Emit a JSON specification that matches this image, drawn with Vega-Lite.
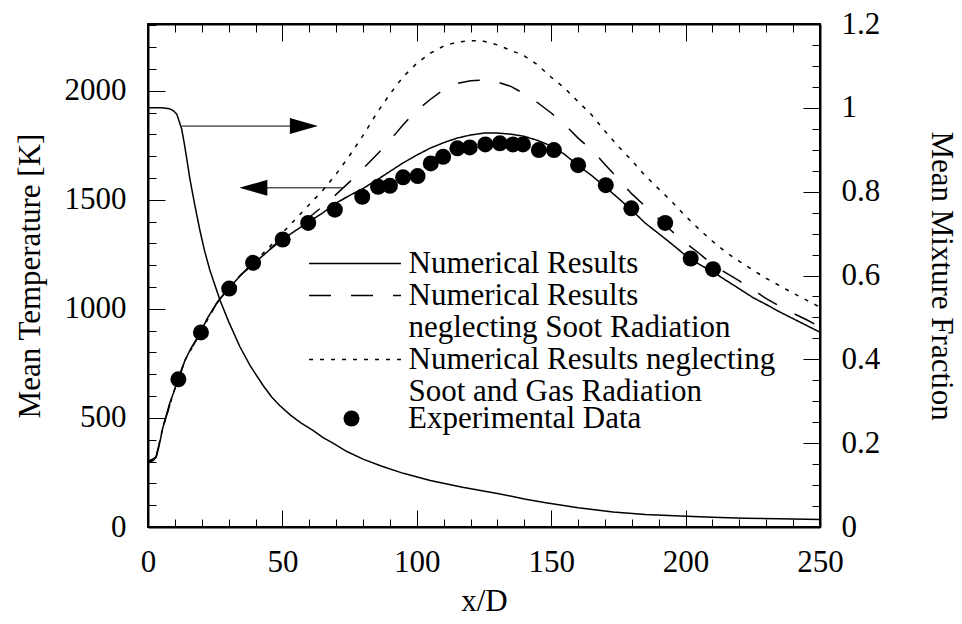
{
"$schema": "https://vega.github.io/schema/vega-lite/v6.json",
"width": 672, "height": 503,
"autosize": {"type": "none"},
"padding": {"left": 148, "top": 24, "right": 142, "bottom": 97},
"background": "white",
"config": {
  "view": {"stroke": "black", "strokeWidth": 2},
  "font": "Liberation Serif",
  "axis": {"grid": false, "domainColor": "black", "domainWidth": 2, "tickColor": "black", "tickWidth": 1, "labelColor": "black", "labelFont": "Liberation Serif", "labelFontSize": 31, "titleFont": "Liberation Serif", "titleFontSize": 31, "titleFontWeight": "normal", "titleColor": "black", "labelFlush": false, "labelOverlap": false, "labelBound": false}
},
"datasets": {
  "temperature": [
    {"x":0,"T":300,"model":"Numerical Results"},{"x":1,"T":300,"model":"Numerical Results"},{"x":2,"T":305,"model":"Numerical Results"},{"x":3,"T":320,"model":"Numerical Results"},{"x":4,"T":365,"model":"Numerical Results"},{"x":5.5,"T":455,"model":"Numerical Results"},{"x":7,"T":520,"model":"Numerical Results"},{"x":8,"T":565,"model":"Numerical Results"},{"x":9.4,"T":612,"model":"Numerical Results"},{"x":11.3,"T":681,"model":"Numerical Results"},{"x":13.8,"T":765,"model":"Numerical Results"},{"x":16,"T":820,"model":"Numerical Results"},{"x":19.3,"T":887,"model":"Numerical Results"},{"x":22,"T":955,"model":"Numerical Results"},{"x":25.5,"T":1025,"model":"Numerical Results"},{"x":30,"T":1095,"model":"Numerical Results"},{"x":35,"T":1160,"model":"Numerical Results"},{"x":40,"T":1215,"model":"Numerical Results"},{"x":45,"T":1268,"model":"Numerical Results"},{"x":50,"T":1318,"model":"Numerical Results"},{"x":55,"T":1360,"model":"Numerical Results"},{"x":60,"T":1400,"model":"Numerical Results"},{"x":65,"T":1440,"model":"Numerical Results"},{"x":70,"T":1485,"model":"Numerical Results"},{"x":75,"T":1520,"model":"Numerical Results"},{"x":80,"T":1552,"model":"Numerical Results"},{"x":85,"T":1590,"model":"Numerical Results"},{"x":90,"T":1630,"model":"Numerical Results"},{"x":95,"T":1670,"model":"Numerical Results"},{"x":100,"T":1705,"model":"Numerical Results"},{"x":105,"T":1737,"model":"Numerical Results"},{"x":110,"T":1762,"model":"Numerical Results"},{"x":115,"T":1783,"model":"Numerical Results"},{"x":120,"T":1797,"model":"Numerical Results"},{"x":125,"T":1806,"model":"Numerical Results"},{"x":130,"T":1806,"model":"Numerical Results"},{"x":135,"T":1801,"model":"Numerical Results"},{"x":140,"T":1791,"model":"Numerical Results"},{"x":145,"T":1772,"model":"Numerical Results"},{"x":150,"T":1747,"model":"Numerical Results"},{"x":155,"T":1708,"model":"Numerical Results"},{"x":160,"T":1657,"model":"Numerical Results"},{"x":165,"T":1612,"model":"Numerical Results"},{"x":170,"T":1560,"model":"Numerical Results"},{"x":175,"T":1507,"model":"Numerical Results"},{"x":180,"T":1452,"model":"Numerical Results"},{"x":185,"T":1393,"model":"Numerical Results"},{"x":190,"T":1345,"model":"Numerical Results"},{"x":195,"T":1296,"model":"Numerical Results"},{"x":200,"T":1245,"model":"Numerical Results"},{"x":205,"T":1205,"model":"Numerical Results"},{"x":210,"T":1171,"model":"Numerical Results"},{"x":215,"T":1131,"model":"Numerical Results"},{"x":220,"T":1092,"model":"Numerical Results"},{"x":225,"T":1052,"model":"Numerical Results"},{"x":230,"T":1020,"model":"Numerical Results"},{"x":235,"T":986,"model":"Numerical Results"},{"x":240,"T":955,"model":"Numerical Results"},{"x":245,"T":924,"model":"Numerical Results"},{"x":250,"T":893,"model":"Numerical Results"},

    {"x":0,"T":300,"model":"Numerical Results neglecting Soot Radiation"},{"x":3,"T":320,"model":"Numerical Results neglecting Soot Radiation"},{"x":5.5,"T":455,"model":"Numerical Results neglecting Soot Radiation"},{"x":9.4,"T":612,"model":"Numerical Results neglecting Soot Radiation"},{"x":13.8,"T":765,"model":"Numerical Results neglecting Soot Radiation"},{"x":19.3,"T":887,"model":"Numerical Results neglecting Soot Radiation"},{"x":25.5,"T":1025,"model":"Numerical Results neglecting Soot Radiation"},{"x":30,"T":1097,"model":"Numerical Results neglecting Soot Radiation"},{"x":35,"T":1162,"model":"Numerical Results neglecting Soot Radiation"},{"x":40,"T":1217,"model":"Numerical Results neglecting Soot Radiation"},{"x":45,"T":1272,"model":"Numerical Results neglecting Soot Radiation"},{"x":50,"T":1325,"model":"Numerical Results neglecting Soot Radiation"},{"x":55,"T":1373,"model":"Numerical Results neglecting Soot Radiation"},{"x":60,"T":1420,"model":"Numerical Results neglecting Soot Radiation"},{"x":65,"T":1470,"model":"Numerical Results neglecting Soot Radiation"},{"x":70,"T":1525,"model":"Numerical Results neglecting Soot Radiation"},{"x":75,"T":1582,"model":"Numerical Results neglecting Soot Radiation"},{"x":80,"T":1643,"model":"Numerical Results neglecting Soot Radiation"},{"x":85,"T":1705,"model":"Numerical Results neglecting Soot Radiation"},{"x":90,"T":1772,"model":"Numerical Results neglecting Soot Radiation"},{"x":95,"T":1845,"model":"Numerical Results neglecting Soot Radiation"},{"x":100,"T":1910,"model":"Numerical Results neglecting Soot Radiation"},{"x":105,"T":1960,"model":"Numerical Results neglecting Soot Radiation"},{"x":110,"T":2005,"model":"Numerical Results neglecting Soot Radiation"},{"x":115,"T":2033,"model":"Numerical Results neglecting Soot Radiation"},{"x":120,"T":2046,"model":"Numerical Results neglecting Soot Radiation"},{"x":125,"T":2049,"model":"Numerical Results neglecting Soot Radiation"},{"x":130,"T":2040,"model":"Numerical Results neglecting Soot Radiation"},{"x":135,"T":2020,"model":"Numerical Results neglecting Soot Radiation"},{"x":140,"T":1986,"model":"Numerical Results neglecting Soot Radiation"},{"x":145,"T":1945,"model":"Numerical Results neglecting Soot Radiation"},{"x":150,"T":1898,"model":"Numerical Results neglecting Soot Radiation"},{"x":155,"T":1846,"model":"Numerical Results neglecting Soot Radiation"},{"x":160,"T":1783,"model":"Numerical Results neglecting Soot Radiation"},{"x":165,"T":1730,"model":"Numerical Results neglecting Soot Radiation"},{"x":170,"T":1662,"model":"Numerical Results neglecting Soot Radiation"},{"x":175,"T":1595,"model":"Numerical Results neglecting Soot Radiation"},{"x":180,"T":1527,"model":"Numerical Results neglecting Soot Radiation"},{"x":185,"T":1470,"model":"Numerical Results neglecting Soot Radiation"},{"x":190,"T":1412,"model":"Numerical Results neglecting Soot Radiation"},{"x":195,"T":1355,"model":"Numerical Results neglecting Soot Radiation"},{"x":200,"T":1302,"model":"Numerical Results neglecting Soot Radiation"},{"x":205,"T":1255,"model":"Numerical Results neglecting Soot Radiation"},{"x":210,"T":1203,"model":"Numerical Results neglecting Soot Radiation"},{"x":215,"T":1165,"model":"Numerical Results neglecting Soot Radiation"},{"x":220,"T":1128,"model":"Numerical Results neglecting Soot Radiation"},{"x":225,"T":1088,"model":"Numerical Results neglecting Soot Radiation"},{"x":230,"T":1047,"model":"Numerical Results neglecting Soot Radiation"},{"x":235,"T":1012,"model":"Numerical Results neglecting Soot Radiation"},{"x":240,"T":980,"model":"Numerical Results neglecting Soot Radiation"},{"x":245,"T":950,"model":"Numerical Results neglecting Soot Radiation"},{"x":250,"T":918,"model":"Numerical Results neglecting Soot Radiation"},

    {"x":0,"T":300,"model":"Numerical Results neglecting Soot and Gas Radiation"},{"x":3,"T":320,"model":"Numerical Results neglecting Soot and Gas Radiation"},{"x":5.5,"T":455,"model":"Numerical Results neglecting Soot and Gas Radiation"},{"x":9.4,"T":612,"model":"Numerical Results neglecting Soot and Gas Radiation"},{"x":13.8,"T":765,"model":"Numerical Results neglecting Soot and Gas Radiation"},{"x":19.3,"T":887,"model":"Numerical Results neglecting Soot and Gas Radiation"},{"x":25.5,"T":1025,"model":"Numerical Results neglecting Soot and Gas Radiation"},{"x":30,"T":1097,"model":"Numerical Results neglecting Soot and Gas Radiation"},{"x":35,"T":1162,"model":"Numerical Results neglecting Soot and Gas Radiation"},{"x":40,"T":1220,"model":"Numerical Results neglecting Soot and Gas Radiation"},{"x":45,"T":1282,"model":"Numerical Results neglecting Soot and Gas Radiation"},{"x":50,"T":1348,"model":"Numerical Results neglecting Soot and Gas Radiation"},{"x":55,"T":1413,"model":"Numerical Results neglecting Soot and Gas Radiation"},{"x":60,"T":1478,"model":"Numerical Results neglecting Soot and Gas Radiation"},{"x":65,"T":1543,"model":"Numerical Results neglecting Soot and Gas Radiation"},{"x":70,"T":1618,"model":"Numerical Results neglecting Soot and Gas Radiation"},{"x":75,"T":1703,"model":"Numerical Results neglecting Soot and Gas Radiation"},{"x":80,"T":1795,"model":"Numerical Results neglecting Soot and Gas Radiation"},{"x":85,"T":1895,"model":"Numerical Results neglecting Soot and Gas Radiation"},{"x":90,"T":1985,"model":"Numerical Results neglecting Soot and Gas Radiation"},{"x":95,"T":2065,"model":"Numerical Results neglecting Soot and Gas Radiation"},{"x":100,"T":2126,"model":"Numerical Results neglecting Soot and Gas Radiation"},{"x":105,"T":2172,"model":"Numerical Results neglecting Soot and Gas Radiation"},{"x":110,"T":2205,"model":"Numerical Results neglecting Soot and Gas Radiation"},{"x":115,"T":2223,"model":"Numerical Results neglecting Soot and Gas Radiation"},{"x":120,"T":2230,"model":"Numerical Results neglecting Soot and Gas Radiation"},{"x":125,"T":2227,"model":"Numerical Results neglecting Soot and Gas Radiation"},{"x":130,"T":2210,"model":"Numerical Results neglecting Soot and Gas Radiation"},{"x":135,"T":2185,"model":"Numerical Results neglecting Soot and Gas Radiation"},{"x":140,"T":2160,"model":"Numerical Results neglecting Soot and Gas Radiation"},{"x":145,"T":2118,"model":"Numerical Results neglecting Soot and Gas Radiation"},{"x":150,"T":2062,"model":"Numerical Results neglecting Soot and Gas Radiation"},{"x":155,"T":2012,"model":"Numerical Results neglecting Soot and Gas Radiation"},{"x":160,"T":1950,"model":"Numerical Results neglecting Soot and Gas Radiation"},{"x":165,"T":1890,"model":"Numerical Results neglecting Soot and Gas Radiation"},{"x":170,"T":1815,"model":"Numerical Results neglecting Soot and Gas Radiation"},{"x":175,"T":1745,"model":"Numerical Results neglecting Soot and Gas Radiation"},{"x":180,"T":1680,"model":"Numerical Results neglecting Soot and Gas Radiation"},{"x":185,"T":1610,"model":"Numerical Results neglecting Soot and Gas Radiation"},{"x":190,"T":1550,"model":"Numerical Results neglecting Soot and Gas Radiation"},{"x":195,"T":1490,"model":"Numerical Results neglecting Soot and Gas Radiation"},{"x":200,"T":1425,"model":"Numerical Results neglecting Soot and Gas Radiation"},{"x":205,"T":1365,"model":"Numerical Results neglecting Soot and Gas Radiation"},{"x":210,"T":1310,"model":"Numerical Results neglecting Soot and Gas Radiation"},{"x":215,"T":1260,"model":"Numerical Results neglecting Soot and Gas Radiation"},{"x":220,"T":1218,"model":"Numerical Results neglecting Soot and Gas Radiation"},{"x":225,"T":1178,"model":"Numerical Results neglecting Soot and Gas Radiation"},{"x":230,"T":1140,"model":"Numerical Results neglecting Soot and Gas Radiation"},{"x":235,"T":1106,"model":"Numerical Results neglecting Soot and Gas Radiation"},{"x":240,"T":1072,"model":"Numerical Results neglecting Soot and Gas Radiation"},{"x":245,"T":1040,"model":"Numerical Results neglecting Soot and Gas Radiation"},{"x":250,"T":1008,"model":"Numerical Results neglecting Soot and Gas Radiation"}
  ],
  "experiment": [
    {"x":11.3,"T":677,"source":"Experimental Data"},{"x":19.7,"T":892,"source":"Experimental Data"},{"x":30.2,"T":1093,"source":"Experimental Data"},{"x":39.1,"T":1211,"source":"Experimental Data"},{"x":50.1,"T":1318,"source":"Experimental Data"},{"x":59.6,"T":1394,"source":"Experimental Data"},{"x":69.5,"T":1455,"source":"Experimental Data"},{"x":79.7,"T":1514,"source":"Experimental Data"},{"x":85.6,"T":1560,"source":"Experimental Data"},{"x":90,"T":1564,"source":"Experimental Data"},{"x":94.9,"T":1603,"source":"Experimental Data"},{"x":100.3,"T":1609,"source":"Experimental Data"},{"x":105.2,"T":1667,"source":"Experimental Data"},{"x":109.8,"T":1697,"source":"Experimental Data"},{"x":115.1,"T":1736,"source":"Experimental Data"},{"x":119.7,"T":1740,"source":"Experimental Data"},{"x":125.5,"T":1754,"source":"Experimental Data"},{"x":130.9,"T":1759,"source":"Experimental Data"},{"x":135.8,"T":1754,"source":"Experimental Data"},{"x":139.5,"T":1754,"source":"Experimental Data"},{"x":145.4,"T":1728,"source":"Experimental Data"},{"x":151,"T":1728,"source":"Experimental Data"},{"x":160,"T":1659,"source":"Experimental Data"},{"x":170.3,"T":1567,"source":"Experimental Data"},{"x":179.8,"T":1461,"source":"Experimental Data"},{"x":192.4,"T":1394,"source":"Experimental Data"},{"x":201.9,"T":1231,"source":"Experimental Data"},{"x":210.2,"T":1182,"source":"Experimental Data"}
  ],
  "mixture": [
    {"x":0,"f":1.0},{"x":5,"f":1.0},{"x":8,"f":0.998},{"x":9.5,"f":0.993},{"x":10.7,"f":0.985},{"x":11.5,"f":0.97},{"x":12.5,"f":0.95},{"x":13.5,"f":0.915},{"x":14.5,"f":0.875},{"x":15.6,"f":0.83},{"x":17.5,"f":0.765},{"x":19.3,"f":0.708},{"x":21,"f":0.66},{"x":23,"f":0.613},{"x":25,"f":0.575},{"x":26.8,"f":0.541},{"x":30,"f":0.49},{"x":34.2,"f":0.43},{"x":38,"f":0.385},{"x":42.9,"f":0.337},{"x":46,"f":0.31},{"x":49,"f":0.29},{"x":53,"f":0.267},{"x":57,"f":0.248},{"x":61.5,"f":0.23},{"x":65,"f":0.214},{"x":68.8,"f":0.2},{"x":74,"f":0.18},{"x":80,"f":0.162},{"x":87,"f":0.145},{"x":95,"f":0.128},{"x":105,"f":0.111},{"x":117,"f":0.095},{"x":130,"f":0.08},{"x":140,"f":0.067},{"x":148,"f":0.058},{"x":160,"f":0.046},{"x":173,"f":0.036},{"x":185,"f":0.03},{"x":198,"f":0.026},{"x":210,"f":0.023},{"x":222,"f":0.021},{"x":240,"f":0.019},{"x":250,"f":0.018}
  ],
  "arrowLines": [
    {"x":12.6,"x2":53,"T":1838},
    {"x":44,"x2":72.6,"T":1555}
  ],
  "arrowHeads": [
    {"x":58,"T":1838,"direction":"right"},
    {"x":39.2,"T":1555,"direction":"left"}
  ]
},
"layer": [
  {
    "encoding": {
      "x": {"field": "x", "type": "quantitative", "scale": {"domain": [0, 250], "nice": false, "zero": false},
        "axis": {"orient": "bottom", "title": "x/D", "values": [0,10,20,30,40,50,60,70,80,90,100,110,120,130,140,150,160,170,180,190,200,210,220,230,240,250],
          "labelExpr": "datum.value % 50 === 0 ? datum.label : ''",
          "tickSize": {"condition": {"test": "datum.value % 50 === 0", "value": -17}, "value": -8},
          "labelPadding": 37, "titlePadding": 0}},
      "y": {"field": "T", "type": "quantitative", "scale": {"domain": [0, 2306], "nice": false},
        "axis": {"orient": "left", "title": "Mean Temperature [K]", "format": "d", "values": [0,100,200,300,400,500,600,700,800,900,1000,1100,1200,1300,1400,1500,1600,1700,1800,1900,2000,2100,2200,2300],
          "labelExpr": "datum.value % 500 === 0 ? datum.label : ''",
          "tickSize": {"condition": {"test": "datum.value % 500 === 0", "value": -17}, "value": -8},
          "labelPadding": 39, "titlePadding": 18}}
    },
    "layer": [
      {"data": {"name": "temperature"},
       "mark": {"type": "line", "color": "black", "strokeWidth": 1.5},
       "encoding": {
         "strokeDash": {"field": "model", "type": "nominal",
           "scale": {"domain": ["Numerical Results", "Numerical Results neglecting Soot Radiation", "neglecting Soot Radiation", "Numerical Results neglecting Soot and Gas Radiation", "Soot and Gas Radiation"],
                     "range": [[1,0],[22,20],[0,1000],[4,7],[0,1000]]},
           "legend": {"orient": "none", "legendX": 160, "legendY": 225, "title": null, "padding": 0,
             "symbolType": "M-3.17,0L3.17,0", "symbolSize": 841, "symbolOffset": 31.5, "symbolStrokeWidth": 1.5, "symbolStrokeColor": "black", "symbolFillColor": "transparent",
             "labelFont": "Liberation Serif", "labelFontSize": 31, "labelColor": "black", "labelOffset": 38, "labelLimit": 0,
             "rowPadding": 0, "clipHeight": 29,
             "labelExpr": "datum.label == 'Numerical Results neglecting Soot Radiation' ? 'Numerical Results' : (datum.label == 'Numerical Results neglecting Soot and Gas Radiation' ? 'Numerical Results neglecting' : datum.label)"}}
       }},
      {"data": {"name": "experiment"},
       "mark": {"type": "point", "filled": true, "color": "black", "opacity": 1, "size": 256},
       "encoding": {
         "shape": {"field": "source", "type": "nominal", "scale": {"range": ["circle"]},
           "legend": {"orient": "none", "legendX": 188, "legendY": 379, "title": null, "padding": 0,
             "symbolSize": 256, "symbolFillColor": "black", "symbolStrokeColor": "black", "symbolOpacity": 1,
             "labelFont": "Liberation Serif", "labelFontSize": 31, "labelColor": "black", "labelOffset": 41, "labelLimit": 0}}
       }},
      {"data": {"name": "arrowLines"},
       "mark": {"type": "rule", "color": "black", "strokeWidth": 1},
       "encoding": {"x2": {"field": "x2"}}},
      {"data": {"name": "arrowHeads"},
       "transform": [{"filter": "datum.direction === 'right'"}],
       "mark": {"type": "point", "filled": true, "color": "black", "opacity": 1, "size": 784, "shape": "M-1,-0.57L1,0L-1,0.57Z"}},
      {"data": {"name": "arrowHeads"},
       "transform": [{"filter": "datum.direction === 'left'"}],
       "mark": {"type": "point", "filled": true, "color": "black", "opacity": 1, "size": 784, "shape": "M1,-0.57L-1,0L1,0.57Z"}}
    ]
  },
  {
    "data": {"name": "mixture"},
    "mark": {"type": "line", "color": "black", "strokeWidth": 1.5},
    "encoding": {
      "x": {"field": "x", "type": "quantitative", "scale": {"domain": [0, 250], "nice": false, "zero": false},
        "axis": {"orient": "top", "title": null, "labels": false, "values": [0,10,20,30,40,50,60,70,80,90,100,110,120,130,140,150,160,170,180,190,200,210,220,230,240,250],
          "tickSize": {"condition": {"test": "datum.value % 50 === 0", "value": -17}, "value": -8}}},
      "y": {"field": "f", "type": "quantitative", "scale": {"domain": [0, 1.2], "nice": false},
        "axis": {"orient": "right", "title": "Mean Mixture Fraction", "format": "~g",
          "values": [0,0.05,0.1,0.15,0.2,0.25,0.3,0.35,0.4,0.45,0.5,0.55,0.6,0.65,0.7,0.75,0.8,0.85,0.9,0.95,1,1.05,1.1,1.15,1.2],
          "labelExpr": "round(datum.value*20) % 4 === 0 ? datum.label : ''",
          "tickSize": {"condition": {"test": "round(datum.value*20) % 4 === 0", "value": -17}, "value": -8},
          "labelPadding": 38, "titlePadding": 45}}
    }
  }
],
"resolve": {"scale": {"y": "independent"}, "axis": {"x": "independent", "y": "independent"}}
}
